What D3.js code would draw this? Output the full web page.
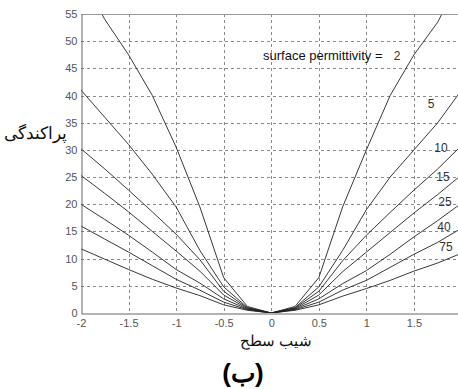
<!DOCTYPE html>
<html>
<head>
<meta charset="utf-8">
<script src="https://cdn.jsdelivr.net/npm/d3@7"></script>
<style>
  body { margin: 0; background: #fff; }
  svg { display: block; font-family: "Liberation Sans", Arial, sans-serif; }
  .tick text { fill: #555; font-size: 11px; }
</style>
</head>
<body>
<div id="chart"></div>
<script>
// slope samples (x axis)
const slopes = [-2, -1.75, -1.5, -1.25, -1, -0.75, -0.5, -0.25, 0, 0.25, 0.5, 0.75, 1, 1.25, 1.5, 1.75, 2];

// scattering values per surface permittivity
const eps2  = [62, 54, 47.5, 40, 30.5, 19.5, 6.5, 1.2, 0, 1.2, 6.5, 19.5, 30, 40, 47.5, 53.5, 62];
const eps5  = [41, 36, 31, 25.5, 19.5, 11.5, 4.8, 1.0, 0, 1.0, 4.8, 11.5, 19, 25, 30, 35, 41];
const eps10 = [30.2, 26.5, 22.6, 18.6, 14.5, 9.8, 4.0, 0.9, 0, 0.9, 4.0, 9.6, 14.3, 18.5, 22.6, 26.5, 30.8];
const eps15 = [25.3, 22, 18.6, 15, 11.4, 7.7, 3.3, 0.8, 0, 0.8, 3.3, 7.6, 11.2, 14.8, 18.4, 21.8, 25.4];
const eps25 = [20, 17.2, 14.3, 11.2, 8.0, 5.5, 2.6, 0.7, 0, 0.7, 2.6, 5.4, 7.8, 10.8, 14, 17, 20.2];
const eps40 = [16, 13.6, 11.2, 8.7, 6.2, 4.2, 2.0, 0.6, 0, 0.6, 2.0, 4.2, 6.0, 8.4, 10.8, 13, 15.6];
const eps75 = [11.8, 9.9, 8.0, 6.2, 4.6, 3.2, 1.5, 0.5, 0, 0.5, 1.5, 3.1, 4.5, 6.0, 7.7, 9.2, 11];

const seriesNames = ["2", "5", "10", "15", "25", "40", "75"];
const seriesValues = [eps2, eps5, eps10, eps15, eps25, eps40, eps75];

const xTicks = [-2, -1.5, -1, -0.5, 0, 0.5, 1, 1.5];
const yTicks = [0, 5, 10, 15, 20, 25, 30, 35, 40, 45, 50, 55];

const width = 458;
const height = 389;
const margin = { top: 14, left: 81, bottom: 76 };
const plotRight = 461.5;

const svg = d3.select('#chart')
  .append('svg')
  .attr('width', width)
  .attr('height', height);

const x = d3.scaleLinear().domain([-2, 2]).range([margin.left, plotRight]);
const y = d3.scaleLinear().domain([0, 55]).range([height - margin.bottom, margin.top]);

// grid
const grid = svg.append('g').attr('class', 'grid')
  .attr('stroke', '#8a8a8a')
  .attr('stroke-width', 1)
  .attr('stroke-dasharray', '3,3');

grid.selectAll('line.v')
  .data(xTicks.filter(d => d !== -2))
  .enter().append('line')
  .attr('class', 'v')
  .attr('x1', d => Math.round(x(d)) + 0.5)
  .attr('x2', d => Math.round(x(d)) + 0.5)
  .attr('y1', y(55))
  .attr('y2', y(0));

grid.selectAll('line.h')
  .data(yTicks.filter(d => d !== 0 && d !== 55))
  .enter().append('line')
  .attr('class', 'h')
  .attr('x1', x(-2))
  .attr('x2', plotRight)
  .attr('y1', d => Math.round(y(d)) + 0.5)
  .attr('y2', d => Math.round(y(d)) + 0.5);

// curves, clipped to the plot box
svg.append('clipPath').attr('id', 'plot-clip')
  .append('rect')
  .attr('x', x(-2))
  .attr('y', y(55))
  .attr('width', plotRight - x(-2))
  .attr('height', y(0) - y(55));

const line = d3.line()
  .x((d, i) => x(slopes[i]))
  .y(d => y(d));

svg.append('g')
  .attr('clip-path', 'url(#plot-clip)')
  .selectAll('path')
  .data(seriesValues)
  .enter().append('path')
  .attr('d', d => line(d))
  .attr('fill', 'none')
  .attr('stroke', '#222')
  .attr('stroke-width', 0.9);

// box lines
svg.append('line')
  .attr('x1', x(-2)).attr('x2', plotRight)
  .attr('y1', Math.round(y(55)) + 0.5).attr('y2', Math.round(y(55)) + 0.5)
  .attr('stroke', '#999');

// axes
const xAxis = svg.append('g')
  .attr('transform', `translate(0,${Math.round(y(0)) + 0.5})`)
  .call(d3.axisBottom(x).tickValues(xTicks).tickSize(0).tickPadding(6).tickFormat(d => String(d)));
xAxis.select('.domain').attr('stroke', '#666');

const yAxis = svg.append('g')
  .attr('transform', `translate(${Math.round(x(-2)) + 0.5},0)`)
  .call(d3.axisLeft(y).tickValues(yTicks).tickSize(0).tickPadding(4).tickFormat(d => String(d)));
yAxis.select('.domain').attr('stroke', '#666');

// series labels at the right end
const labelPos = [
  { name: "5", x: 431, y: 104 },
  { name: "10", x: 441, y: 148 },
  { name: "15", x: 443, y: 177 },
  { name: "25", x: 445, y: 202 },
  { name: "40", x: 444, y: 227 },
  { name: "75", x: 446, y: 247 }
];
svg.append('g').selectAll('text')
  .data(labelPos)
  .enter().append('text')
  .attr('x', d => d.x)
  .attr('y', d => d.y)
  .attr('text-anchor', 'middle')
  .attr('dominant-baseline', 'central')
  .attr('font-size', 12)
  .attr('fill', '#333')
  .text(d => d.name);

svg.append('text')
  .attr('x', 263)
  .attr('y', 60)
  .attr('font-size', 13)
  .attr('fill', '#111')
  .text('surface permittivity = ');
svg.append('text')
  .attr('x', 397)
  .attr('y', 60)
  .attr('text-anchor', 'middle')
  .attr('font-size', 12)
  .attr('fill', '#333')
  .text(seriesNames[0]);

// axis titles
svg.append('text')
  .attr('x', 67)
  .attr('y', 139)
  .attr('text-anchor', 'end')
  .attr('font-size', 17)
  .attr('fill', '#111')
  .text('پراکندگی');

svg.append('text')
  .attr('x', 276)
  .attr('y', 346)
  .attr('text-anchor', 'middle')
  .attr('font-size', 15)
  .attr('fill', '#111')
  .text('شیب سطح');

svg.append('text')
  .attr('x', 243)
  .attr('y', 382)
  .attr('text-anchor', 'middle')
  .attr('font-size', 26)
  .attr('font-weight', 'bold')
  .attr('fill', '#000')
  .text('(ب)');
</script>
</body>
</html>
